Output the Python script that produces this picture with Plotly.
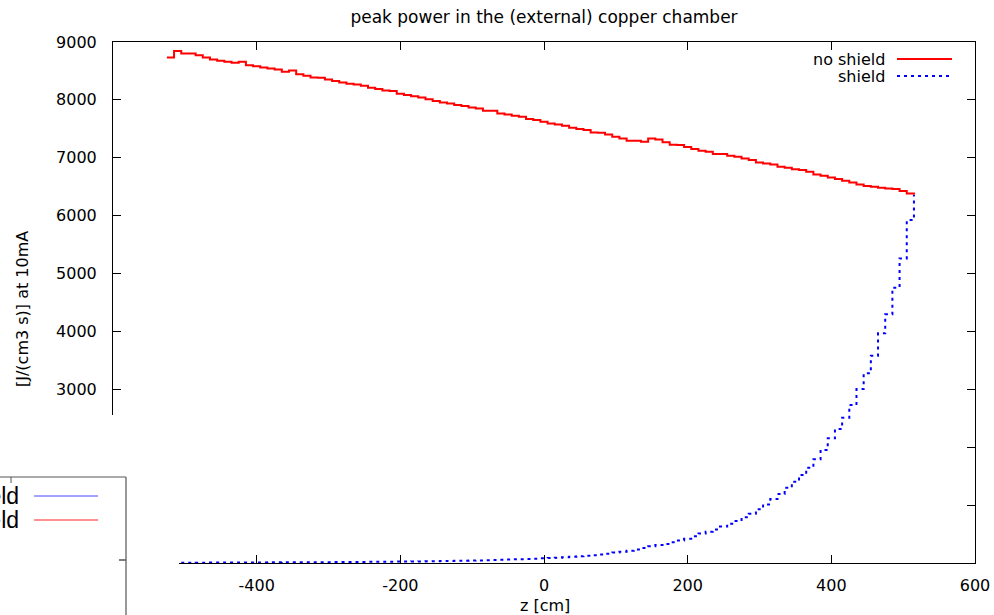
import plotly.graph_objects as go

# ---- data ----
z_no_shield = list(range(-525, 516, 10))
no_shield = [
    8733, 8843, 8803, 8803, 8773, 8733, 8699, 8675, 8658, 8641,
    8658, 8600, 8583, 8560, 8543, 8526, 8485, 8509, 8445, 8416,
    8388, 8382, 8354, 8325, 8302, 8278, 8267, 8244, 8209, 8187,
    8164, 8152, 8106, 8083, 8065, 8042, 8013, 7979, 7956, 7939,
    7910, 7893, 7870, 7853, 7811, 7811, 7766, 7749, 7725, 7708,
    7668, 7651, 7622, 7594, 7576, 7553, 7518, 7495, 7478, 7438,
    7432, 7404, 7363, 7334, 7293, 7293, 7276, 7334, 7317, 7270,
    7225, 7219, 7185, 7150, 7122, 7104, 7064, 7064, 7035, 7018,
    6989, 6960, 6920, 6903, 6886, 6845, 6827, 6800, 6788, 6759,
    6713, 6690, 6661, 6632, 6603, 6575, 6540, 6511, 6499, 6482,
    6471, 6459, 6424, 6385, 6360,
]
z_shield = list(range(-505, 516, 10))
shield = [
    5, 5, 6, 6, 7, 7, 8, 8, 9, 9,
    10, 10, 11, 11, 12, 12, 13, 13, 14, 15,
    15, 16, 17, 17, 18, 19, 20, 21, 22,
    23, 24, 25, 27, 28, 30, 31, 33, 35, 37,
    40, 42, 45, 48, 52, 55, 59, 63, 66, 70,
    74, 80, 86, 92, 100, 108, 116, 124, 134, 145,
    160, 180, 195, 210, 235, 260, 290, 310, 330, 360,
    390, 420, 460, 510, 540, 580, 630, 680, 725, 790,
    850, 930, 1010, 1105, 1192, 1300, 1404, 1520, 1646, 1791,
    1952, 2154, 2314, 2509, 2729, 3005, 3276, 3580, 3967, 4295,
    4755, 5262, 5924, 6355,
]
x_ticks = [-600, -400, -200, 0, 200, 400, 600]
x_tick_labels = ["-600", "-400", "-200", "0", "200", "400", "600"]
y_ticks = [0, 1000, 2000, 3000, 4000, 5000, 6000, 7000, 8000, 9000]
y_tick_labels = ["0", "1000", "2000", "3000", "4000", "5000", "6000", "7000", "8000", "9000"]

W, H = 994, 615
PL, PR, PT, PB = 113, 975, 42, 563


def px(x):
    return (x - PL) / (PR - PL)


def py(y):
    return (PB - y) / (PB - PT)


FONT = "DejaVu Sans"

fig = go.Figure()
fig.add_trace(go.Scatter(x=z_no_shield, y=no_shield, mode="lines", line_shape="hv",
                         line=dict(color="#ff0000", width=2), name="no shield"))
fig.add_trace(go.Scatter(x=z_shield, y=shield, mode="lines", line_shape="hv",
                         line=dict(color="#0000ff", width=2, dash="3px,4px"), name="shield"))

axis_common = dict(showline=True, linecolor="black", linewidth=1, mirror="allticks",
                   ticks="inside", ticklen=8, tickcolor="black", showgrid=False,
                   zeroline=False, automargin=False,
                   tickfont=dict(family=FONT, size=16, color="black"))

fig.update_xaxes(range=[-600, 600], tickvals=x_ticks, ticktext=x_tick_labels,
                 ticklabelstandoff=8, **axis_common)
fig.update_yaxes(range=[0, 9000], tickvals=y_ticks, ticktext=y_tick_labels,
                 ticklabelstandoff=12, **axis_common)

shapes = []
# legend samples (top right)
shapes.append(dict(type="line", xref="paper", yref="paper", x0=px(897), x1=px(952),
                   y0=py(59), y1=py(59), line=dict(color="#ff0000", width=2)))
shapes.append(dict(type="line", xref="paper", yref="paper", x0=px(897), x1=px(950),
                   y0=py(76), y1=py(76), line=dict(color="#0000ff", width=2, dash="3px,4px")))
# overlapping white panel at bottom-left
shapes.append(dict(type="rect", xref="paper", yref="paper", x0=px(-5), x1=px(179),
                   y0=py(620), y1=py(415), fillcolor="white", line=dict(width=0),
                   layer="above"))
shapes.append(dict(type="line", xref="paper", yref="paper", x0=px(-5), x1=px(126),
                   y0=py(477), y1=py(477), line=dict(color="#555555", width=1), layer="above"))
shapes.append(dict(type="line", xref="paper", yref="paper", x0=px(126), x1=px(126),
                   y0=py(477), y1=py(620), line=dict(color="#777777", width=1.5), layer="above"))
shapes.append(dict(type="line", xref="paper", yref="paper", x0=px(11), x1=px(11),
                   y0=py(477), y1=py(483), line=dict(color="#555555", width=1), layer="above"))
shapes.append(dict(type="line", xref="paper", yref="paper", x0=px(119), x1=px(126),
                   y0=py(560), y1=py(560), line=dict(color="#555555", width=1.5), layer="above"))
shapes.append(dict(type="line", xref="paper", yref="paper", x0=px(34), x1=px(98),
                   y0=py(496), y1=py(496), line=dict(color="#4444ff", width=1), layer="above"))
shapes.append(dict(type="line", xref="paper", yref="paper", x0=px(34), x1=px(98),
                   y0=py(520), y1=py(520), line=dict(color="#ff2222", width=1), layer="above"))

annotations = [
    dict(text="no shield", xref="paper", yref="paper", x=px(887), y=py(59),
         xanchor="right", yanchor="middle", showarrow=False,
         font=dict(family=FONT, size=16, color="black")),
    dict(text="shield", xref="paper", yref="paper", x=px(887), y=py(76),
         xanchor="right", yanchor="middle", showarrow=False,
         font=dict(family=FONT, size=16, color="black")),
    dict(text="[J/(cm3 s)] at 10mA", xref="paper", yref="paper", x=px(22), y=py(309),
         xanchor="center", yanchor="middle", textangle=-90, showarrow=False,
         font=dict(family=FONT, size=16, color="black")),
    dict(text="z [cm]", xref="paper", yref="paper", x=px(545), y=py(605),
         xanchor="center", yanchor="middle", showarrow=False,
         font=dict(family=FONT, size=16, color="black")),
    dict(text="shield", xref="paper", yref="paper", x=px(21), y=py(496),
         xanchor="right", yanchor="middle", showarrow=False,
         font=dict(family="Liberation Sans", size=23, color="black")),
    dict(text="no shield", xref="paper", yref="paper", x=px(21), y=py(520),
         xanchor="right", yanchor="middle", showarrow=False,
         font=dict(family="Liberation Sans", size=23, color="black")),
]

fig.update_layout(
    width=W, height=H,
    margin=dict(l=PL, r=W - PR, t=PT, b=H - PB, pad=0, autoexpand=False),
    paper_bgcolor="white", plot_bgcolor="white",
    showlegend=False,
    title=dict(text="peak power in the (external) copper chamber", x=544 / W, y=1 - 17 / H,
               xref="container", yref="container", xanchor="center", yanchor="middle",
               font=dict(family=FONT, size=17, color="black")),
    shapes=shapes, annotations=annotations,
)

fig.write_html("out.html")
